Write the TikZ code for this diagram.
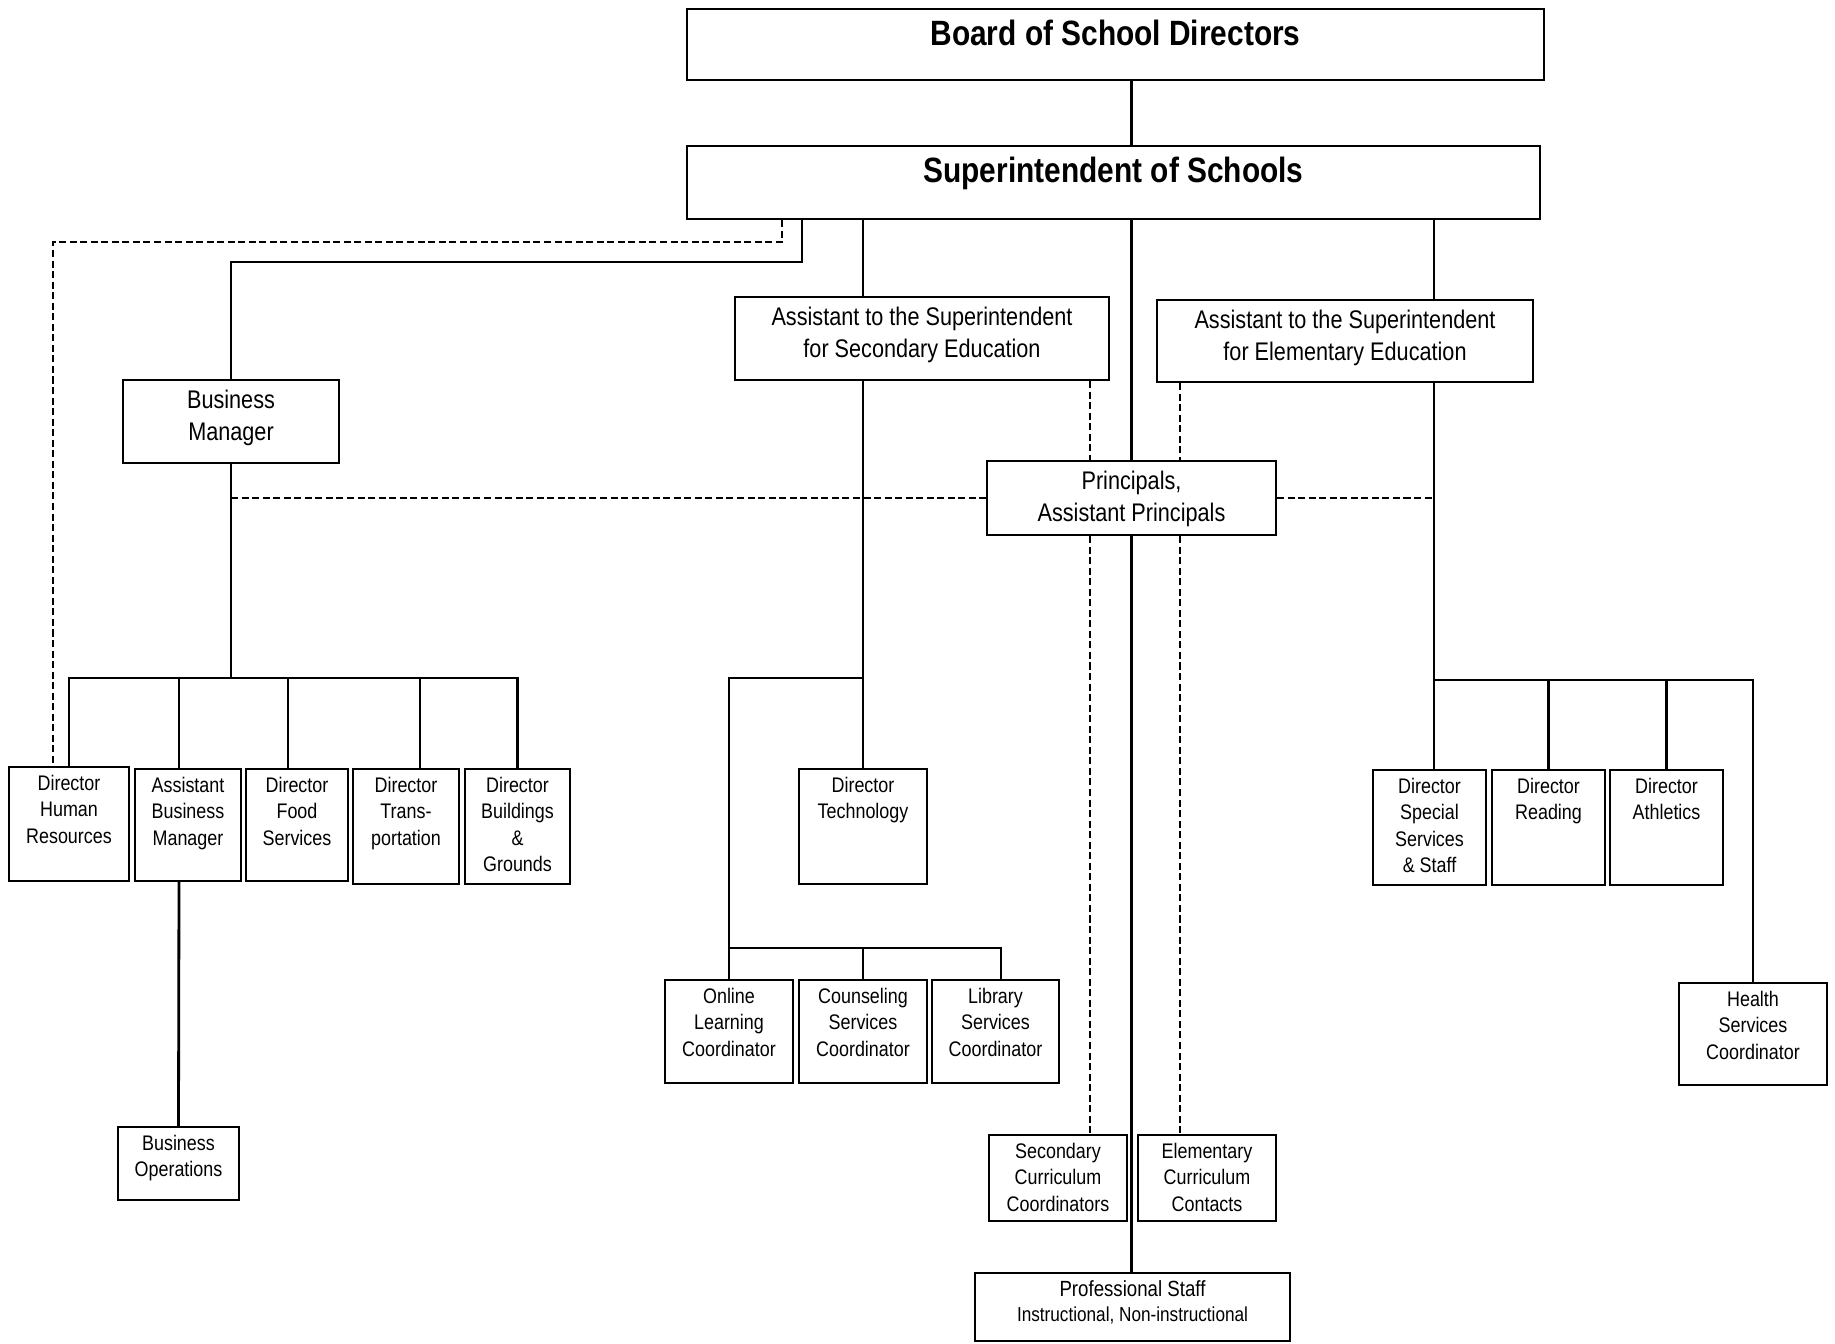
\documentclass[tikz,border=0pt]{standalone}
\usepackage{fontspec}
\setmainfont{Liberation Sans}[FakeStretch=0.85]

\begin{document}
\begin{tikzpicture}[x=0.02cm,y=-0.02cm,
  unit/.style 2 args={draw, line width=1.1pt, inner sep=0pt, minimum width=#1*0.02cm, minimum height=#2*0.02cm},
  bigtxt/.style={label={[anchor=north,align=center,inner sep=0pt,yshift=-6.5pt,font=\fontsize{20}{24}\selectfont\bfseries]north:{#1}}},
  midtxt/.style={label={[anchor=north,align=center,inner sep=0pt,yshift=-6pt,font=\fontsize{14.5}{18}\selectfont]north:{#1}}},
  smalltxt/.style={label={[anchor=north,align=center,inner sep=0pt,yshift=-5pt,font=\fontsize{12}{15}\selectfont]north:{#1}}},
  link/.style={line width=1.6pt},
  dotline/.style={line width=1.2pt, dash pattern=on 4pt off 2pt}]
  \useasboundingbox (0,0) rectangle (1835,1343);

  % top of the chart
  \node[unit={857}{71}, bigtxt={Board of School Directors}] (board) at (1115.5,44.5) {};
  \node[unit={853}{73}, bigtxt={Superintendent of Schools}] (super) at (1113.5,182.5) {};
  \node[unit={374}{83}, midtxt={Assistant to the Superintendent\\for Secondary Education}] (asec) at (922,338.5) {};
  \node[unit={376}{82}, midtxt={Assistant to the Superintendent\\for Elementary Education}] (aelem) at (1345,341) {};
  \node[unit={216}{83}, midtxt={Business\\Manager}] (bm) at (231,421.5) {};
  \node[unit={289}{74}, midtxt={Principals,\\Assistant Principals}] (prin) at (1131.5,498) {};

  % business side
  \node[unit={120}{114}, smalltxt={Director\\Human\\Resources}] (hr) at (69,824) {};
  \node[unit={106}{112}, smalltxt={Assistant\\Business\\Manager}] (abm) at (188,825) {};
  \node[unit={102}{112}, smalltxt={Director\\Food\\Services}] (food) at (297,825) {};
  \node[unit={106}{115}, smalltxt={Director\\Trans-\\portation}] (trans) at (406,826.5) {};
  \node[unit={105}{115}, smalltxt={Director\\Buildings\\\&\\Grounds}] (build) at (517.5,826.5) {};
  \node[unit={121}{73}, smalltxt={Business\\Operations}] (bo) at (178.5,1163.5) {};

  % secondary side
  \node[unit={128}{115}, smalltxt={Director\\Technology}] (tech) at (863,826.5) {};
  \node[unit={128}{103}, smalltxt={Online\\Learning\\Coordinator}] (online) at (729,1031.5) {};
  \node[unit={128}{103}, smalltxt={Counseling\\Services\\Coordinator}] (couns) at (863,1031.5) {};
  \node[unit={127}{103}, smalltxt={Library\\Services\\Coordinator}] (lib) at (995.5,1031.5) {};
  \node[unit={138}{86}, smalltxt={Secondary\\Curriculum\\Coordinators}] (seccur) at (1058,1178) {};
  \node[unit={138}{86}, smalltxt={Elementary\\Curriculum\\Contacts}] (elemcur) at (1207,1178) {};
  \node[unit={315}{68}, label={[anchor=north,align=center,inner sep=0pt,yshift=-4.5pt,font=\fontsize{12.5}{14.6}\selectfont]north:{Professional Staff\\{\fontsize{11.5}{14}\selectfont Instructional, Non-instructional}}}] (prof) at (1132.5,1307) {};

  % elementary side
  \node[unit={113}{115}, smalltxt={Director\\Special\\Services\\\& Staff}] (spec) at (1429.5,827.5) {};
  \node[unit={113}{115}, smalltxt={Director\\Reading}] (read) at (1548.5,827.5) {};
  \node[unit={113}{115}, smalltxt={Director\\Athletics}] (ath) at (1666.5,827.5) {};
  \node[unit={148}{102}, smalltxt={Health\\Services\\Coordinator}] (health) at (1753,1034) {};

  % bends and buses
  \coordinate (d1) at (782,242);
  \coordinate (d2) at (53,242);
  \coordinate (b1) at (802,262);
  \coordinate (l1) at (229,678);
  \coordinate (l2) at (179,678);
  \coordinate (l3) at (288,678);
  \coordinate (l4) at (420,678);
  \coordinate (s1) at (863,678);
  \coordinate (s2) at (729,678);
  \coordinate (sbus) at (1001,948);
  \coordinate (e1) at (1434,680);
  \coordinate (q1) at (1090,0);
  \coordinate (q2) at (1180,0);

  % solid lines
  \draw[link] (board.south -| prin.north) -- (super.north -| prin.north);
  \draw[link] (super.south -| prin.north) -- (prin.north);
  \draw[link] (super.south -| b1) -- (b1) -- (bm.north |- b1) -- (bm.north);
  \draw[link] (super.south -| s1) -- (asec.north -| s1);
  \draw[link] (super.south -| e1) -- (aelem.north -| e1);

  \draw[link] (bm.south) -- (bm.south |- l1);
  \draw[link] (hr.north) -- (hr.north |- l1) -- (build.north |- l1) -- (build.north);
  \draw[link] (l2) -- (abm.north -| l2);
  \draw[link] (l3) -- (food.north -| l3);
  \draw[link] (l4) -- (trans.north -| l4);
  \draw[link] (abm.south -| l2) -- (bo.north);

  \draw[link] (asec.south -| s1) -- (tech.north -| s1);
  \draw[link] (s1) -- (s2) -- (online.north);
  \draw[link] (online.north |- sbus) -- (sbus) -- (lib.north -| sbus);
  \draw[link] (couns.north |- sbus) -- (couns.north);

  \draw[link] (aelem.south -| e1) -- (e1) -- (health.north |- e1) -- (health.north);
  \draw[link] (e1) -- (spec.north -| e1);
  \draw[link] (read.north |- e1) -- (read.north);
  \draw[link] (ath.north |- e1) -- (ath.north);

  \draw[link] (prin.south) -- (prof.north -| prin.south);

  % dashed lines
  \draw[dotline] (super.south -| d1) -- (d1) -- (d2) -- (hr.north -| d2);
  \draw[dotline] (bm.south |- prin.west) -- (prin.west);
  \draw[dotline] (prin.east) -- (e1 |- prin.east);
  \draw[dotline] (asec.south -| q1) -- (prin.north -| q1);
  \draw[dotline] (aelem.south -| q2) -- (prin.north -| q2);
  \draw[dotline] (prin.south -| q1) -- (seccur.north -| q1);
  \draw[dotline] (prin.south -| q2) -- (elemcur.north -| q2);
\end{tikzpicture}
\end{document}
